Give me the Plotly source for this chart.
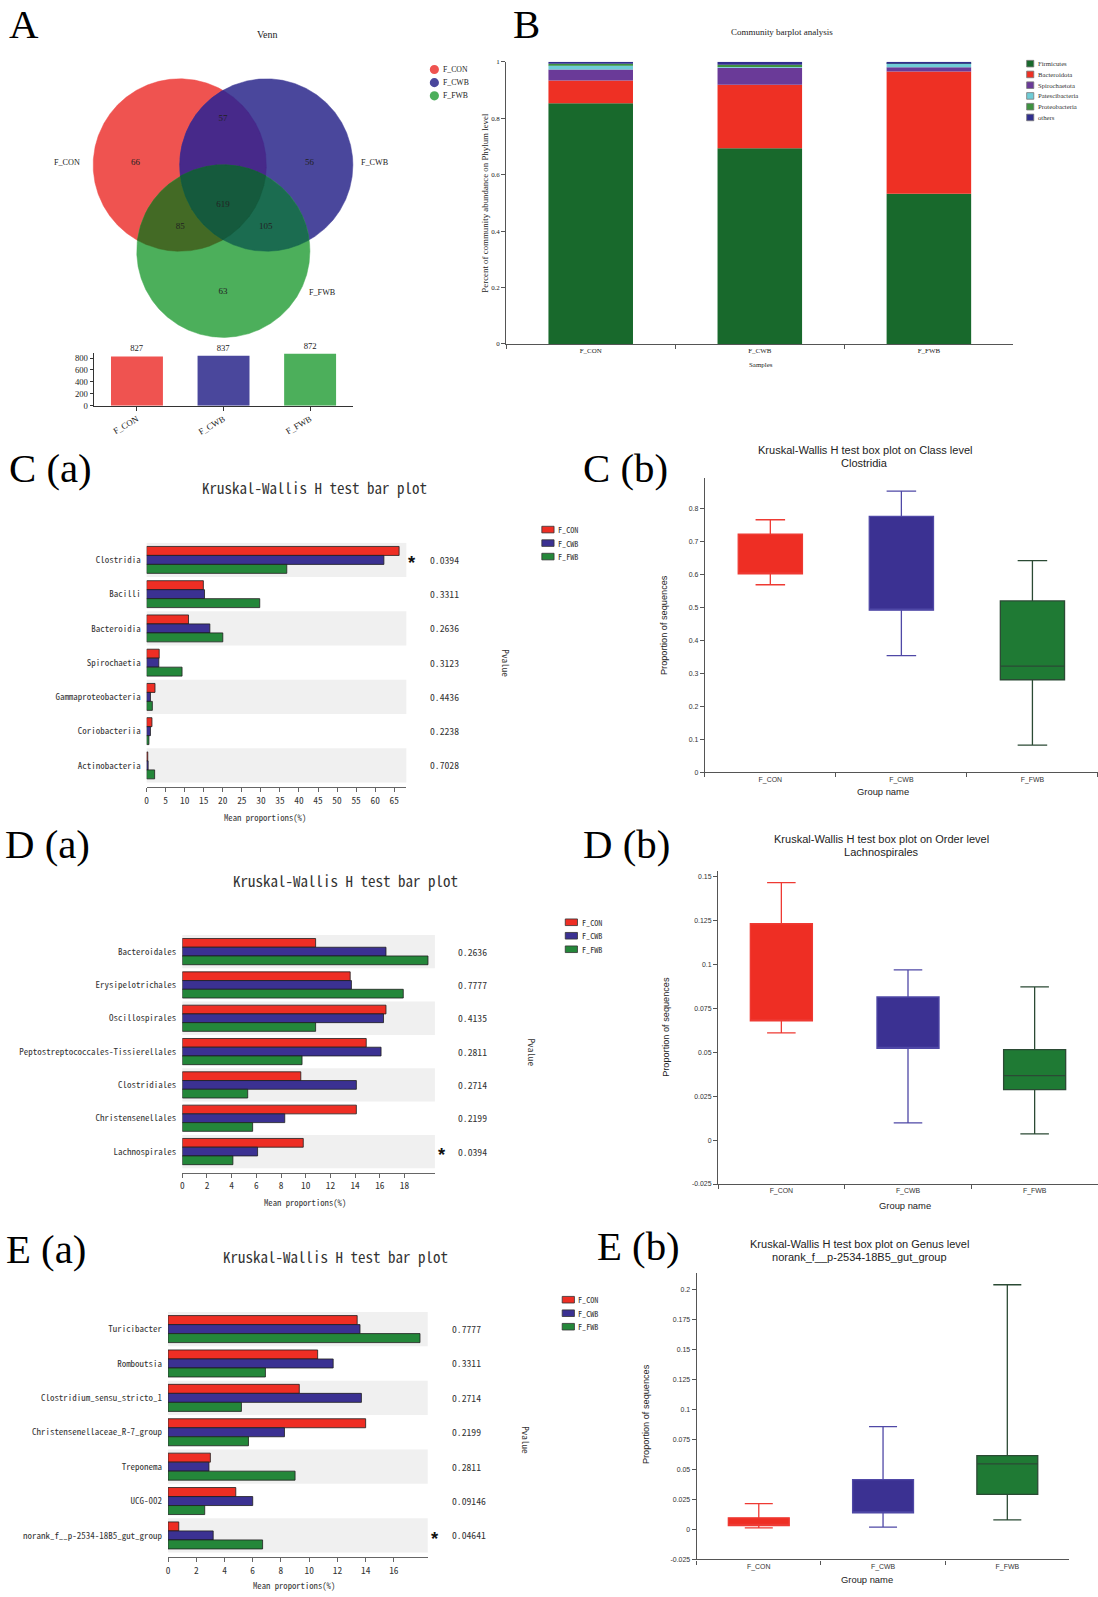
import numpy as np
import plotly.graph_objects as go

W, H = 1098, 1597
S = 1 / 0.98   # layout positions below are measured on the reference at 0.98 scale

# ---------------------------------------------------------------- data
groups = ["F_CON", "F_CWB", "F_FWB"]

venn_only = [66, 56, 63]          # F_CON only, F_CWB only, F_FWB only
venn_con_cwb = 57
venn_con_fwb = 85
venn_cwb_fwb = 105
venn_all = 619
venn_totals = [827, 837, 872]

phyla = ["Firmicutes", "Bacteroidota", "Spirochaetota", "Patescibacteria", "Proteobacteria", "others"]
firmicutes = [0.853, 0.694, 0.532]
bacteroidota = [0.081, 0.225, 0.434]
spirochaetota = [0.039, 0.060, 0.015]
patescibacteria = [0.014, 0.003, 0.013]
proteobacteria = [0.006, 0.008, 0.002]
others = [0.007, 0.010, 0.004]

class_names = ["Clostridia", "Bacilli", "Bacteroidia", "Spirochaetia",
               "Gammaproteobacteria", "Coriobacteriia", "Actinobacteria"]
class_con = [66.3, 14.9, 11.0, 3.3, 2.2, 1.4, 0.3]
class_cwb = [62.3, 15.2, 16.6, 3.2, 1.0, 1.0, 0.4]
class_fwb = [36.8, 29.7, 20.0, 9.3, 1.5, 0.6, 2.1]
class_p = ["0.0394", "0.3311", "0.2636", "0.3123", "0.4436", "0.2238", "0.7028"]
class_ticks = [0, 5, 10, 15, 20, 25, 30, 35, 40, 45, 50, 55, 60, 65]

order_names = ["Bacteroidales", "Erysipelotrichales", "Oscillospirales",
               "Peptostreptococcales-Tissierellales", "Clostridiales",
               "Christensenellales", "Lachnospirales"]
order_con = [10.8, 13.6, 16.5, 14.9, 9.6, 14.1, 9.8]
order_cwb = [16.5, 13.7, 16.3, 16.1, 14.1, 8.3, 6.1]
order_fwb = [19.9, 17.9, 10.8, 9.7, 5.3, 5.7, 4.1]
order_p = ["0.2636", "0.7777", "0.4135", "0.2811", "0.2714", "0.2199", "0.0394"]
order_ticks = [0, 2, 4, 6, 8, 10, 12, 14, 16, 18]

genus_names = ["Turicibacter", "Romboutsia", "Clostridium_sensu_stricto_1",
               "Christensenellaceae_R-7_group", "Treponema", "UCG-002",
               "norank_f__p-2534-18B5_gut_group"]
genus_con = [13.4, 10.6, 9.3, 14.0, 3.0, 4.8, 0.76]
genus_cwb = [13.6, 11.7, 13.7, 8.25, 2.9, 6.0, 3.2]
genus_fwb = [17.85, 6.9, 5.2, 5.7, 9.0, 2.6, 6.7]
genus_p = ["0.7777", "0.3311", "0.2714", "0.2199", "0.2811", "0.09146", "0.04641"]
genus_ticks = [0, 2, 4, 6, 8, 10, 12, 14, 16]

# box plots: q1, median, q3, lower whisker, upper whisker per group
clos_q1 = [0.601, 0.491, 0.280]
clos_med = [0.601, 0.491, 0.321]
clos_q3 = [0.721, 0.775, 0.519]
clos_lo = [0.568, 0.353, 0.082]
clos_hi = [0.765, 0.852, 0.641]
clos_ticks = [0, 0.1, 0.2, 0.3, 0.4, 0.5, 0.6, 0.7, 0.8]

lach_q1 = [0.0679, 0.0522, 0.0288]
lach_med = [0.0679, 0.0522, 0.0367]
lach_q3 = [0.1232, 0.0815, 0.0515]
lach_lo = [0.0611, 0.0098, 0.0036]
lach_hi = [0.1466, 0.0969, 0.0872]
lach_ticks = [-0.025, 0, 0.025, 0.05, 0.075, 0.1, 0.125, 0.15]

nor_q1 = [0.0033, 0.0138, 0.0293]
nor_med = [0.0033, 0.0138, 0.0547]
nor_q3 = [0.0097, 0.0415, 0.0616]
nor_lo = [0.0014, 0.0019, 0.0080]
nor_hi = [0.0216, 0.0857, 0.2040]
nor_ticks = [-0.025, 0, 0.025, 0.05, 0.075, 0.1, 0.125, 0.15, 0.175, 0.2]

# ---------------------------------------------------------------- styles
SERIF = "Liberation Serif, Times New Roman, serif"
SANS = "Liberation Sans, Arial, sans-serif"
MONO = "Noto Sans Mono CJK SC, Liberation Mono, monospace"

V_RED, V_BLUE, V_GREEN = "#EF5350", "#4A479C", "#4CAF5B"
V_RB, V_RG, V_BG, V_RBG = "#47298A", "#436A25", "#1B6C50", "#155A3D"
RED, BLUE, GREEN = "#EE2E24", "#3B3192", "#24873A"
PHY_COL = ["#18692C", "#EE3024", "#6A3A98", "#6FCCD6", "#3E9240", "#302E8E"]
BOX_FILL = ["#EE2E24", "#3B3192", "#1F7A34"]
BOX_LINE = ["#EE3A33", "#4F48A6", "#2B4A34"]


def clamp(v):
    return min(1.0, max(0.0, v))


def fx(x):
    return x * S / W


def fy(y):
    return 1 - y * S / H


def dx(a, b):
    return [clamp(a * S / W), clamp(b * S / W)]


def dy(top, bot):
    return [clamp(1 - bot * S / H), clamp(1 - top * S / H)]


def fs(size):
    return size * S


fig = go.Figure()
ann = []
shapes = []
layout = {}


def text(x, y, s, size, family, color="#222", xanchor="center", yanchor="middle", angle=0):
    ann.append(dict(x=fx(x), y=fy(y), xref="paper", yref="paper", text=s, showarrow=False,
                    font=dict(size=fs(size), family=family, color=color),
                    xanchor=xanchor, yanchor=yanchor, textangle=angle))


def rect_legend(x0, x1, ys, h, tx, labels, colors, size, family, border="#333"):
    for yy, lab, col in zip(ys, labels, colors):
        shapes.append(dict(type="rect", xref="paper", yref="paper",
                           x0=fx(x0), x1=fx(x1), y0=fy(yy + h / 2), y1=fy(yy - h / 2),
                           fillcolor=col, line=dict(color=border, width=0.8)))
        text(tx, yy, lab, size, family, color="#333", xanchor="left")


# ---------------------------------------------------------------- A: Venn
R = 85.0
cen = {"F_CON": (174.5, 158.7), "F_CWB": (259.5, 158.7), "F_FWB": (217.3, 243.6)}


def circle(c, n=720):
    t = np.linspace(0, 2 * np.pi, n, endpoint=False)
    return c[0] + R * np.cos(t), c[1] + R * np.sin(t)


def inter_poly(keys):
    xs, ys = [], []
    for k in keys:
        x, y = circle(cen[k], 2880)
        m = np.ones_like(x, dtype=bool)
        for o in keys:
            if o != k:
                m &= np.hypot(x - cen[o][0], y - cen[o][1]) <= R + 1e-6
        xs.append(x[m])
        ys.append(y[m])
    X, Y = np.concatenate(xs), np.concatenate(ys)
    o = np.argsort(np.arctan2(Y - Y.mean(), X - X.mean()))
    return X[o], Y[o]


def fill(x, y, col):
    x = list(x) + [x[0]]
    y = list(y) + [y[0]]
    fig.add_trace(go.Scatter(x=x, y=y, fill="toself", fillcolor=col, mode="lines",
                             line=dict(color=col, width=0.5), hoverinfo="skip",
                             xaxis="x", yaxis="y"))


for k, col in zip(groups, [V_RED, V_BLUE, V_GREEN]):
    fill(*circle(cen[k]), col)
fill(*inter_poly(["F_CON", "F_CWB"]), V_RB)
fill(*inter_poly(["F_CON", "F_FWB"]), V_RG)
fill(*inter_poly(["F_CWB", "F_FWB"]), V_BG)
fill(*inter_poly(groups), V_RBG)

venn_counts = venn_only + [venn_con_cwb, venn_con_fwb, venn_cwb_fwb, venn_all]
venn_pos_x = [131, 302, 217, 217, 175, 259, 217]
venn_pos_y = [156, 156, 284, 113, 220, 220, 198]
fig.add_trace(go.Scatter(x=venn_pos_x, y=venn_pos_y, mode="text",
                         text=[str(v) for v in venn_counts],
                         textfont=dict(family=SERIF, size=fs(8.8), color="#222"),
                         xaxis="x", yaxis="y", hoverinfo="skip"))
layout["xaxis"] = dict(domain=dx(30, 420), range=[30, 420], visible=False, fixedrange=True)
layout["yaxis"] = dict(domain=dy(55, 345), range=[345, 55], visible=False, fixedrange=True)

text(64, 156, "F_CON", 8, SERIF)
text(366, 156, "F_CWB", 8, SERIF)
text(315, 284, "F_FWB", 8, SERIF)
text(261, 30, "Venn", 9.8, SERIF)
for i, (g, col) in enumerate(zip(groups, [V_RED, V_BLUE, V_GREEN])):
    yy = 64.5 + i * 13
    shapes.append(dict(type="circle", xref="paper", yref="paper",
                       x0=fx(420), x1=fx(429), y0=fy(yy + 4.5), y1=fy(yy - 4.5),
                       fillcolor=col, line=dict(width=0)))
    text(431, yy, g, 7.6, SERIF, xanchor="left")

# Venn totals bar chart
fig.add_trace(go.Bar(x=groups, y=venn_totals, marker=dict(color=[V_RED, V_BLUE, V_GREEN], line=dict(width=0)),
                     width=0.6, offset=-0.3, text=[str(v) for v in venn_totals], textposition="outside",
                     textfont=dict(family=SERIF, size=fs(8.5), color="#222"), cliponaxis=False,
                     xaxis="x2", yaxis="y2"))
layout["xaxis2"] = dict(domain=dx(90, 345), range=[-0.5, 2.5], anchor="y2", type="category",
                        tickangle=-30, ticks="outside", ticklen=4, tickcolor="#333",
                        showline=True, linecolor="#333", linewidth=1,
                        tickfont=dict(family=SERIF, size=fs(8.5), color="#222"), showgrid=False)
layout["yaxis2"] = dict(domain=dy(344, 396), range=[0, 883], anchor="x2",
                        tickvals=[0, 200, 400, 600, 800], ticks="outside", ticklen=3, tickcolor="#333",
                        showline=True, linecolor="#333", linewidth=1,
                        tickfont=dict(family=SERIF, size=fs(8.5), color="#222"), showgrid=False, zeroline=False)

# ---------------------------------------------------------------- B: stacked bars
phy_vals = [firmicutes, bacteroidota, spirochaetota, patescibacteria, proteobacteria, others]
base = np.zeros(len(groups))
for name, vals, col in zip(phyla, phy_vals, PHY_COL):
    fig.add_trace(go.Bar(x=groups, y=vals, base=base.copy(), width=0.5, offset=-0.25,
                         marker=dict(color=col, line=dict(width=0)), name=name,
                         xaxis="x3", yaxis="y3"))
    base = base + np.array(vals)
layout["xaxis3"] = dict(domain=dx(495, 993), range=[-0.5, 2.5], anchor="y3", type="category",
                        tickson="boundaries", ticks="outside", ticklen=4, tickcolor="#555",
                        showline=True, linecolor="#555", linewidth=1,
                        tickfont=dict(family=SERIF, size=fs(6.8), color="#222"), showgrid=False)
layout["yaxis3"] = dict(domain=dy(57, 335), range=[0, 1], anchor="x3",
                        tickvals=[0, 0.2, 0.4, 0.6, 0.8, 1],
                        ticktext=["0", "0.2", "0.4", "0.6", "0.8", "1"],
                        ticks="outside", ticklen=4, tickcolor="#555",
                        showline=True, linecolor="#555", linewidth=1,
                        tickfont=dict(family=SERIF, size=fs(6.8), color="#222"), showgrid=False, zeroline=False)
text(766, 28, "Community barplot analysis", 8.8, SERIF)
text(745, 355, "Samples", 6.8, SERIF)
text(474, 196, "Percent of community abundance on Phylum level", 8.7, SERIF, angle=-90)
rect_legend(1006, 1013, [58.8 + i * 10.6 for i in range(6)], 6.5, 1015, phyla, PHY_COL, 6.6, SERIF,
            border="#777")


# ---------------------------------------------------------------- horizontal bar panels
def hbar_panel(n, names, con, cwb, fwb, pvals, xticks, xdom, ytop, ybot, xmax,
               pval_x, star_x, pv_lab, leg_x, leg_y0, title_xy, mean_xy):
    xa, ya = f"x{n}", f"y{n}"
    for i in range(0, len(names), 2):
        shapes.append(dict(type="rect", xref=f"{xa} domain", yref=ya, x0=0, x1=1,
                           y0=i - 0.5, y1=i + 0.5, fillcolor="#F0F0F0",
                           line=dict(width=0), layer="below"))
    for vals, col, off, g in zip([con, cwb, fwb], [RED, BLUE, GREEN], [-0.393, -0.131, 0.131], groups):
        fig.add_trace(go.Bar(y=names, x=vals, orientation="h", width=0.262, offset=off, name=g,
                             marker=dict(color=col, line=dict(color="#1E1E1E", width=0.8)),
                             xaxis=xa, yaxis=ya))
    layout[f"xaxis{n}"] = dict(domain=dx(*xdom), range=[0, xmax], anchor=ya, tickvals=xticks,
                               ticks="outside", ticklen=4, tickcolor="#666",
                               showline=True, linecolor="#666", linewidth=1,
                               tickfont=dict(family=MONO, size=fs(9.2), color="#333"),
                               showgrid=False, zeroline=False)
    layout[f"yaxis{n}"] = dict(domain=dy(ytop, ybot), range=[len(names) - 0.36, -0.5], anchor=xa,
                               type="category", ticks="", showline=False, ticklabelstandoff=5,
                               tickfont=dict(family=MONO, size=fs(8.8), color="#333"),
                               showgrid=False, zeroline=False)
    for i, p in enumerate(pvals):
        ann.append(dict(x=fx(pval_x), y=i, xref="paper", yref=ya, text=p, showarrow=False,
                        xanchor="left", yanchor="middle",
                        font=dict(family=MONO, size=fs(9.5), color="#333")))
        if float(p) < 0.05:
            ann.append(dict(x=fx(star_x), y=i, xref="paper", yref=ya, text="<b>*</b>", showarrow=False,
                            xanchor="center", yanchor="middle", yshift=-3,
                            font=dict(family=SANS, size=fs(18), color="#111")))
    text(pv_lab[0], pv_lab[1], "Pvalue", 9, MONO, color="#333", angle=90)
    rect_legend(leg_x, leg_x + 12, [leg_y0, leg_y0 + 13.3, leg_y0 + 26.6], 6.5, leg_x + 14,
                groups, [RED, BLUE, GREEN], 8, MONO)
    text(title_xy[0], title_xy[1], "Kruskal-Wallis H test bar plot", 14.7, MONO, color="#333")
    text(mean_xy[0], mean_xy[1], "Mean proportions(%)", 8.5, MONO, color="#333")


hbar_panel(4, class_names, class_con, class_cwb, class_fwb, class_p, class_ticks,
           (142, 397), 531, 772, 68.2, 418, 403, (495, 650), 530, 518, (307, 477), (258, 801))
hbar_panel(6, order_names, order_con, order_cwb, order_fwb, order_p, order_ticks,
           (177, 425), 917.5, 1152, 20.46, 446, 432, (520, 1033), 553, 905, (337, 864), (297, 1181))
hbar_panel(8, genus_names, genus_con, genus_cwb, genus_fwb, genus_p, genus_ticks,
           (163, 418), 1289, 1531, 18.4, 440, 425, (515, 1415), 550, 1277, (327, 1234), (287, 1558))


# ---------------------------------------------------------------- box panels
def box_panel(n, q1, med, q3, lo, hi, ticks, xdom, ytop, ybot, yrange, titles, title_y, gname_xy, prop_xy):
    xa, ya = f"x{n}", f"y{n}"
    for i, g in enumerate(groups):
        fig.add_trace(go.Box(x=[g], q1=[q1[i]], median=[med[i]], q3=[q3[i]],
                             lowerfence=[lo[i]], upperfence=[hi[i]], name=g,
                             fillcolor=BOX_FILL[i], line=dict(color=BOX_LINE[i], width=1.3),
                             width=0.49, whiskerwidth=0.46, boxpoints=False,
                             xaxis=xa, yaxis=ya))
    layout[f"xaxis{n}"] = dict(domain=dx(*xdom), range=[-0.5, 2.5], anchor=ya, type="category",
                               tickson="boundaries", ticks="outside", ticklen=4, tickcolor="#555",
                               showline=True, linecolor="#555", linewidth=1.2,
                               tickfont=dict(family=SANS, size=fs(6.8), color="#333"), showgrid=False)
    layout[f"yaxis{n}"] = dict(domain=dy(ytop, ybot), range=yrange, anchor=xa,
                               tickvals=ticks, ticktext=[f"{t:g}" for t in ticks],
                               ticks="outside", ticklen=4, tickcolor="#555",
                               showline=True, linecolor="#555", linewidth=1.2,
                               tickfont=dict(family=SANS, size=fs(6.8), color="#333"),
                               showgrid=False, zeroline=False)
    text(titles[0], title_y, titles[1], 10.8, SANS, color="#222")
    text(titles[0], title_y + 12.5, titles[2], 10.8, SANS, color="#222")
    text(gname_xy[0], gname_xy[1], "Group name", 9.2, SANS, color="#222")
    text(prop_xy[0], prop_xy[1], "Proportion of sequences", 9, SANS, color="#222", angle=-90)


box_panel(5, clos_q1, clos_med, clos_q3, clos_lo, clos_hi, clos_ticks,
          (690, 1076), 467, 757, [0, 0.892],
          (847, "Kruskal-Wallis H test box plot on Class level", "Clostridia"), 440,
          (865, 777), (650, 612))
box_panel(7, lach_q1, lach_med, lach_q3, lach_lo, lach_hi, lach_ticks,
          (703, 1076), 854, 1163, [-0.025, 0.1535],
          (863, "Kruskal-Wallis H test box plot on Order level", "Lachnospirales"), 823,
          (887, 1185), (652, 1008))
box_panel(9, nor_q1, nor_med, nor_q3, nor_lo, nor_hi, nor_ticks,
          (682, 1048), 1251, 1533, [-0.025, 0.2135],
          (842, "Kruskal-Wallis H test box plot on Genus level", "norank_f__p-2534-18B5_gut_group"), 1222,
          (849, 1553), (633, 1390))

# ---------------------------------------------------------------- panel letters
for s, x, y in [("A", 22, 20), ("B", 515, 20), ("C (a)", 48, 458), ("C (b)", 612, 458),
                ("D (a)", 45, 828), ("D (b)", 613, 828), ("E (a)", 43, 1228), ("E (b)", 625, 1225)]:
    text(x, y, s, 40, SERIF, color="#000")

fig.update_layout(
    width=W, height=H, autosize=False,
    margin=dict(l=0, r=0, t=0, b=0, pad=0),
    paper_bgcolor="white", plot_bgcolor="rgba(0,0,0,0)",
    showlegend=False, barmode="overlay",
    annotations=ann, shapes=shapes, **layout,
)
fig.write_html("out.html", config={"displayModeBar": False},
               post_script="document.body.style.margin='0px';document.body.style.padding='0px';"
                           "document.documentElement.style.overflow='hidden';")
